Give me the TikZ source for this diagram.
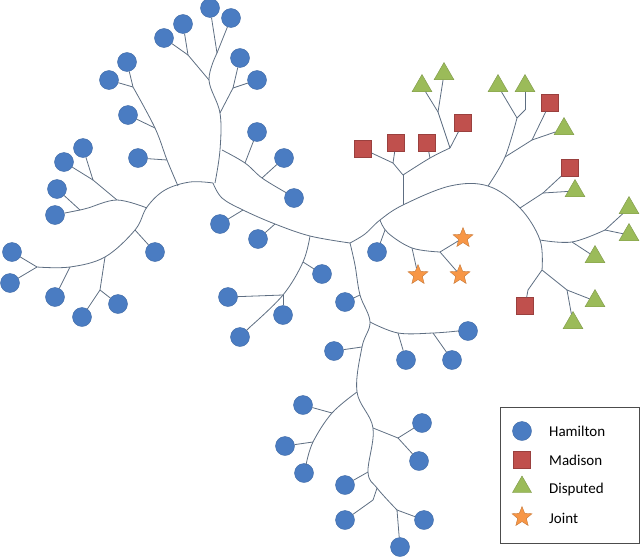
\documentclass[tikz,border=0pt]{standalone}
\usepackage{fontspec}
\setmainfont{Carlito}
\usetikzlibrary{shapes.geometric}
\definecolor{hb}{HTML}{4A7CC2}
\definecolor{mr}{HTML}{C0504D}
\definecolor{dg}{HTML}{9BBB59}
\definecolor{jo}{HTML}{F79646}
\definecolor{ec}{HTML}{5E6E82}
\tikzset{
 H/.style={circle,fill=hb,draw=hb!85!black,line width=0.4pt,minimum size=19pt,inner sep=0pt},
 M/.style={rectangle,fill=mr,draw=mr!80!black,line width=0.4pt,minimum size=17pt,inner sep=0pt},
 D/.style={regular polygon,regular polygon sides=3,fill=dg,draw=dg!80!black,line width=0.4pt,minimum size=23pt,inner sep=0pt},
 J/.style={star,star points=5,star point ratio=2.3,fill=jo,draw=jo!80!black,line width=0.4pt,minimum size=21pt,inner sep=0pt},
 e/.style={draw=ec,line width=0.8pt},
}
\begin{document}
\begin{tikzpicture}[x=1pt,y=-1pt]
\useasboundingbox (0,0) rectangle (640,557);
% ---- edges (trunks) ----
\begin{scope}[e]
\draw plot[smooth,tension=0.6] coordinates {(37,267)(70,267)(105,257)(135,230)(147,207)(165,190)(190,182)(213,183)};
\draw plot[smooth,tension=0.6] coordinates {(213,183)(222,198)(243,210)(275,224)(310,236)(350,243)};
\draw plot[smooth,tension=0.6] coordinates {(350,243)(365,234)(380,220)(403,205)(450,186)(488,186)(520,208)(540,240)(542,270)};
\draw plot[smooth,tension=0.6] coordinates {(350,243)(355,265)(360,295)(370,322)(362,347)(357,392)(373,428)(368,472)(377,488)(397,510)};
% top branch
\draw plot[smooth,tension=0.6] coordinates {(215,183)(220,150)(220,113)(209,80)(217,53)};
\draw plot[smooth,tension=0.6] coordinates {(222,150)(245,163)(262,178)(285,192)};
\draw (220,113) -- (233,88);
\draw (209,80) -- (188,55);
% left-up
\draw plot[smooth,tension=0.6] coordinates {(178,186)(167,160)(155,128)(133,87)};
% left
\draw plot[smooth,tension=0.6] coordinates {(147,208)(117,200)(88,208)(80,210)};
\draw (117,200) -- (93,180);
\draw (105,257) -- (100,290);
% branch down from trunk
\draw plot[smooth,tension=0.6] coordinates {(310,236)(303,262)(283,295)(250,327)};
% stars
\draw plot[smooth,tension=0.6] coordinates {(380,220)(388,233)(412,248)(440,252)};
% madison group
\draw (403,205) -- (403,175);
\draw (403,175) -- (393,163);
\draw plot[smooth,tension=0.6] coordinates {(403,175)(430,158)(450,148)};
\draw (450,148) -- (438,112);
% NE group
\draw plot[smooth,tension=0.6] coordinates {(488,186)(505,157)(517,118)};
\draw (505,157) -- (532,140);
\draw (517,118) -- (525,110);
\draw (520,208) -- (543,193);
\draw plot[smooth,tension=0.6] coordinates {(540,240)(572,242)(605,230)};
\draw (542,270) -- (528,290);
\draw (542,270) -- (567,290);
% down trunk branches
\draw plot[smooth,tension=0.6] coordinates {(370,322)(398,333)(433,333)(458,331)};
\draw plot[smooth,tension=0.6] coordinates {(357,392)(332,413)(313,442)(306,465)};
\draw (373,428) -- (398,438);
\draw (377,488) -- (373,500);
\end{scope}
% ---- leaves ----
\node[H] (h1) at (210,8) {}; \node[H] (h2) at (231,18) {};
\node[H] (h3) at (183,24) {}; \node[H] (h4) at (164,38) {};
\node[H] (h5) at (240,58) {}; \node[H] (h6) at (257,80) {};
\node[H] (h7) at (127,62) {}; \node[H] (h8) at (109,80) {};
\node[H] (h9) at (128,115) {}; \node[H] (h10) at (138,158) {};
\node[H] (h11) at (83,148) {}; \node[H] (h12) at (64,162) {};
\node[H] (h13) at (57,189) {}; \node[H] (h14) at (55,215) {};
\node[H] (h15) at (12,252) {}; \node[H] (h16) at (10,283) {};
\node[H] (h17) at (55,297) {}; \node[H] (h18) at (82,317) {};
\node[H] (h19) at (118,304) {}; \node[H] (h20) at (155,252) {};
\node[H] (h21) at (257,132) {}; \node[H] (h22) at (284,158) {};
\node[H] (h23) at (294,198) {}; \node[H] (h24) at (220,224) {};
\node[H] (h25) at (258,239) {}; \node[H] (h26) at (322,274) {};
\node[H] (h27) at (228,297) {}; \node[H] (h28) at (283,315) {};
\node[H] (h29) at (240,337) {}; \node[H] (h30) at (377,252) {};
\node[H] (h31) at (345,302) {}; \node[H] (h32) at (468,331) {};
\node[H] (h33) at (406,360) {}; \node[H] (h34) at (452,360) {};
\node[H] (h35) at (334,351) {}; \node[H] (h36) at (303,405) {};
\node[H] (h37) at (285,446) {}; \node[H] (h38) at (304,473) {};
\node[H] (h39) at (422,423) {}; \node[H] (h40) at (419,461) {};
\node[H] (h41) at (345,485) {}; \node[H] (h42) at (345,520) {};
\node[H] (h43) at (424,520) {}; \node[H] (h44) at (400,547) {};
\node[M] (m1) at (363,149) {}; \node[M] (m2) at (396,143) {};
\node[M] (m3) at (427,143) {}; \node[M] (m4) at (463,123) {};
\node[M] (m5) at (550,103) {}; \node[M] (m6) at (570,168) {};
\node[M] (m7) at (525,306) {};
\node[D] (d1) at (422,86) {}; \node[D] (d2) at (444,74) {};
\node[D] (d3) at (498,86) {}; \node[D] (d4) at (525,86) {};
\node[D] (d5) at (564,129) {}; \node[D] (d6) at (575,191) {};
\node[D] (d7) at (629,208) {}; \node[D] (d8) at (629,235) {};
\node[D] (d9) at (595,257) {}; \node[D] (d10) at (595,301) {};
\node[D] (d11) at (573,323) {};
\node[J] (s1) at (463,238) {}; \node[J] (s2) at (418,275) {};
\node[J] (s3) at (460,275) {};
% ---- leaf connectors ----
\begin{scope}[e]
\draw (217,53) -- (h1); \draw (217,53) -- (h2);
\draw (188,55) -- (h3); \draw (188,55) -- (h4);
\draw (233,88) -- (h5); \draw (233,88) -- (h6);
\draw (133,87) -- (h7); \draw (133,87) -- (h8);
\draw (155,128) -- (h9); \draw (167,160) -- (h10);
\draw (93,180) -- (h11); \draw (93,180) -- (h12);
\draw (80,210) -- (h13); \draw (80,210) -- (h14);
\draw (37,267) -- (h15); \draw (37,267) -- (h16);
\draw (70,267) -- (h17); \draw (100,290) -- (h18); \draw (100,290) -- (h19);
\draw (135,230) -- (h20);
\draw (245,163) -- (h21); \draw (262,178) -- (h22); \draw (285,192) -- (h23);
\draw (243,210) -- (h24); \draw (275,224) -- (h25);
\draw (303,262) -- (h26); \draw (283,295) -- (h27); \draw (283,295) -- (h28);
\draw (250,327) -- (h29); \draw (385,230) -- (h30);
\draw (360,295) -- (h31); \draw (458,331) -- (h32);
\draw (398,333) -- (h33); \draw (433,333) -- (h34);
\draw (362,347) -- (h35); \draw (332,413) -- (h36);
\draw (313,442) -- (h37); \draw (306,465) -- (h38);
\draw (398,438) -- (h39); \draw (398,438) -- (h40);
\draw (368,472) -- (h41); \draw (373,500) -- (h42);
\draw (397,510) -- (h43); \draw (397,510) -- (h44);
\draw (393,163) -- (m1); \draw (393,163) -- (m2);
\draw (430,158) -- (m3); \draw (450,148) -- (m4);
\draw (438,112) -- (d1); \draw (438,112) -- (d2);
\draw (517,118) -- (d3); \draw (525,110) -- (d4);
\draw (532,140) -- (m5); \draw (532,140) -- (d5);
\draw (543,193) -- (m6); \draw (543,193) -- (d6);
\draw (605,230) -- (d7); \draw (605,230) -- (d8);
\draw (572,242) -- (d9);
\draw (528,290) -- (m7); \draw (567,290) -- (d10); \draw (567,290) -- (d11);
\draw (440,252) -- (s1); \draw (440,252) -- (s3); \draw (412,248) -- (s2);
\end{scope}
% ---- legend ----
\node[draw=black!70,line width=0.6pt,minimum width=139pt,minimum height=136pt,anchor=north west,inner sep=0pt] (leg) at (500,407) {};
\node[H] (lh) at (522,431) {};
\node[M] (lm) at (522,460) {};
\node[D,minimum size=22pt] (ld) at (522,487) {};
\node[J] (lj) at (522,517) {};
\begin{scope}[font=\fontsize{15}{18}\selectfont,anchor=west,inner sep=0pt]
\node (th) at (549,431) {Hamilton};
\node (tm) at (549,460) {Madison};
\node (td) at (549,489) {Disputed};
\node (tj) at (549,518) {Joint};
\end{scope}
\end{tikzpicture}
\end{document}
